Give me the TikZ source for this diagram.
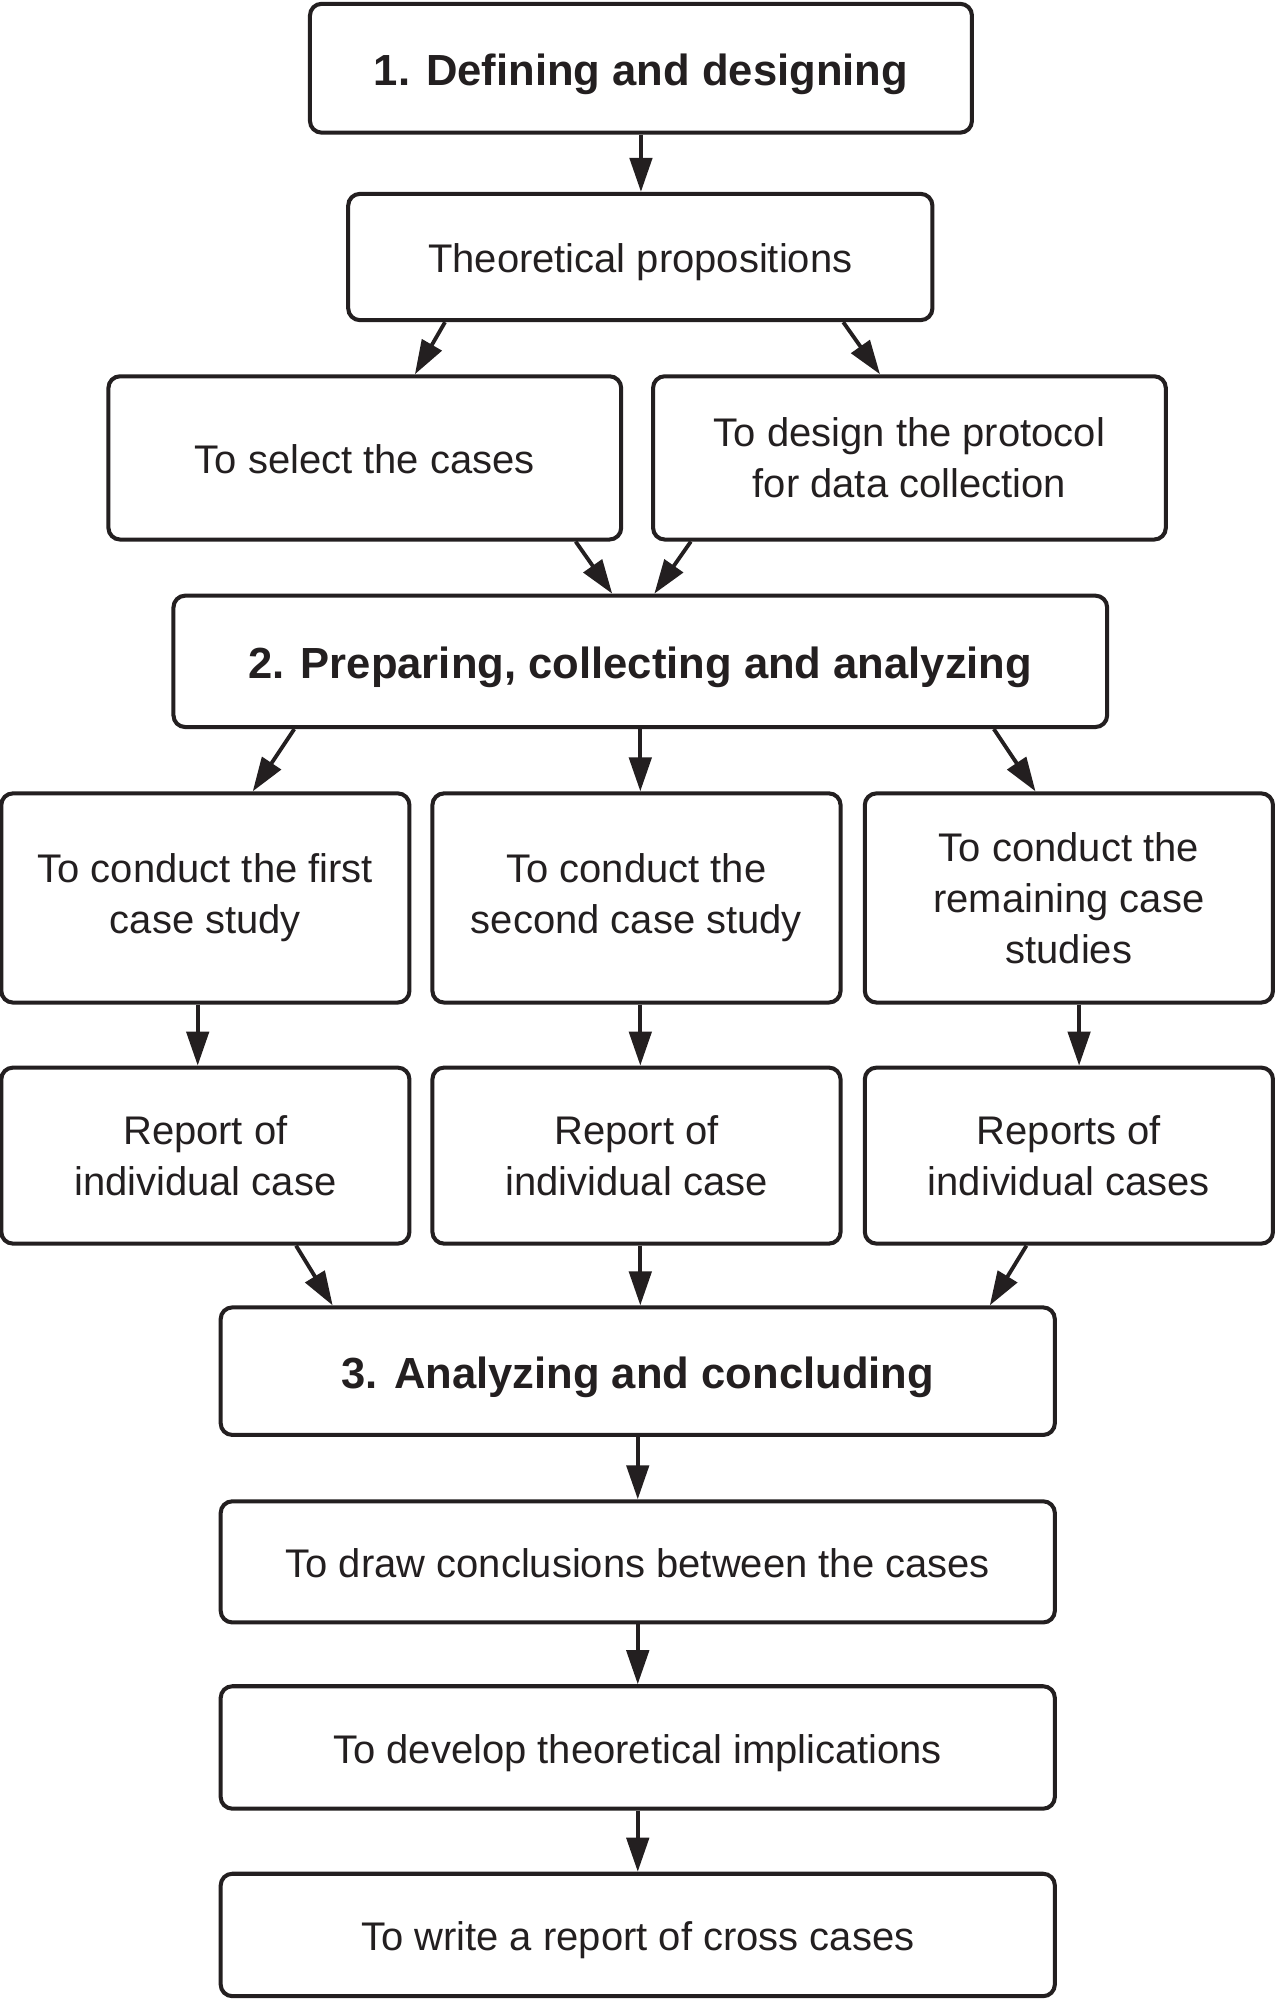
\documentclass[tikz,border=0pt]{standalone}
\usepackage{fontspec}
\setmainfont{Liberation Sans}
\usetikzlibrary{arrows.meta,calc}
\definecolor{ink}{HTML}{231F20}
\begin{document}
\begin{tikzpicture}[x=0.6pt,y=-0.6pt,
  box/.style={draw=ink,line width=1.9pt,rounded corners=5.5pt,text=ink,align=center,inner sep=0pt,
    font=\fontsize{18.8}{24}\selectfont},
  oneline/.style={text height=19pt,text depth=4pt},
  title/.style={box,font=\fontsize{20.5}{24}\selectfont\bfseries,text height=20.8pt,text depth=4.3pt},
  arr/.style={draw=ink,line width=1.8pt,-{Triangle[length=16pt,width=10.5pt]}}]
\useasboundingbox (0,0) rectangle (1000,1568);
\fill[white] (0,0) rectangle (1000,1568);
% nodes
\node[title,minimum width=311.4pt,minimum height=60.6pt] (b1) at (502.5,53.5) {1. Defining and designing};
\node[box,oneline,minimum width=274.8pt,minimum height=59.4pt] (tp) at (502,201.5) {Theoretical propositions};
\node[box,oneline,minimum width=241.2pt,minimum height=76.8pt] (sel) at (286,359) {To select the cases};
\node[box,minimum width=241.2pt,minimum height=76.8pt] (prot) at (713,359) {To design the protocol\\for data collection};
\node[title,minimum width=439.2pt,minimum height=61.8pt] (b2) at (502,518.5) {2. Preparing, collecting and analyzing};
\node[box,minimum width=192pt,minimum height=98.4pt] (c1) at (161,704) {To conduct the first\\case study};
\node[box,minimum width=192pt,minimum height=98.4pt] (c2) at (499,704) {To conduct the\\second case study};
\node[box,minimum width=192pt,minimum height=98.4pt] (c3) at (838,704) {To conduct the\\remaining case\\studies};
\node[box,minimum width=192pt,minimum height=82.8pt] (r1) at (161,906) {Report of\\individual case};
\node[box,minimum width=192pt,minimum height=82.8pt] (r2) at (499,906) {Report of\\individual case};
\node[box,minimum width=192pt,minimum height=82.8pt] (r3) at (838,906) {Reports of\\individual cases};
\node[title,minimum width=392.4pt,minimum height=60pt] (b3) at (500,1075) {3. Analyzing and concluding};
\node[box,oneline,minimum width=392.4pt,minimum height=57pt] (d1) at (500,1224.5) {To draw conclusions between the cases};
\node[box,oneline,minimum width=392.4pt,minimum height=57.6pt] (d2) at (500,1370) {To develop theoretical implications};
\node[box,oneline,minimum width=392.4pt,minimum height=57.6pt] (d3) at (500,1517) {To write a report of cross cases};
% connectors
\draw[arr] (b1.south) -- (b1.south |- tp.north);
\draw[arr] ($(tp.south west)!0.168!(tp.south east)$) -- ($(sel.north west)!0.597!(sel.north east)$);
\draw[arr] ($(tp.south west)!0.845!(tp.south east)$) -- ($(prot.north west)!0.443!(prot.north east)$);
\draw[arr] ($(sel.south west)!0.908!(sel.south east)$) -- ($(b2.north west)!0.47!(b2.north east)$);
\draw[arr] ($(prot.south west)!0.077!(prot.south east)$) -- ($(b2.north west)!0.515!(b2.north east)$);
\draw[arr] ($(b2.south west)!0.131!(b2.south east)$) -- ($(c1.north west)!0.615!(c1.north east)$);
\draw[arr] (b2.south) -- (b2.south |- c2.north);
\draw[arr] ($(b2.south west)!0.877!(b2.south east)$) -- ($(c3.north west)!0.419!(c3.north east)$);
\draw[arr] ($(c1.south)+(-6,0)$) -- ($(r1.north)+(-6,0)$);
\draw[arr] ($(c2.south)+(3,0)$) -- ($(r2.north)+(3,0)$);
\draw[arr] ($(c3.south)+(8,0)$) -- ($(r3.north)+(8,0)$);
\draw[arr] ($(r1.south west)!0.72!(r1.south east)$) -- ($(b3.north west)!0.136!(b3.north east)$);
\draw[arr] ($(r2.south)+(3,0)$) -- ($(b3.north)+(2,0)$);
\draw[arr] ($(r3.south west)!0.397!(r3.south east)$) -- ($(b3.north west)!0.92!(b3.north east)$);
\draw[arr] (b3.south) -- (d1.north);
\draw[arr] (d1.south) -- (d2.north);
\draw[arr] (d2.south) -- (d3.north);
\end{tikzpicture}
\end{document}
